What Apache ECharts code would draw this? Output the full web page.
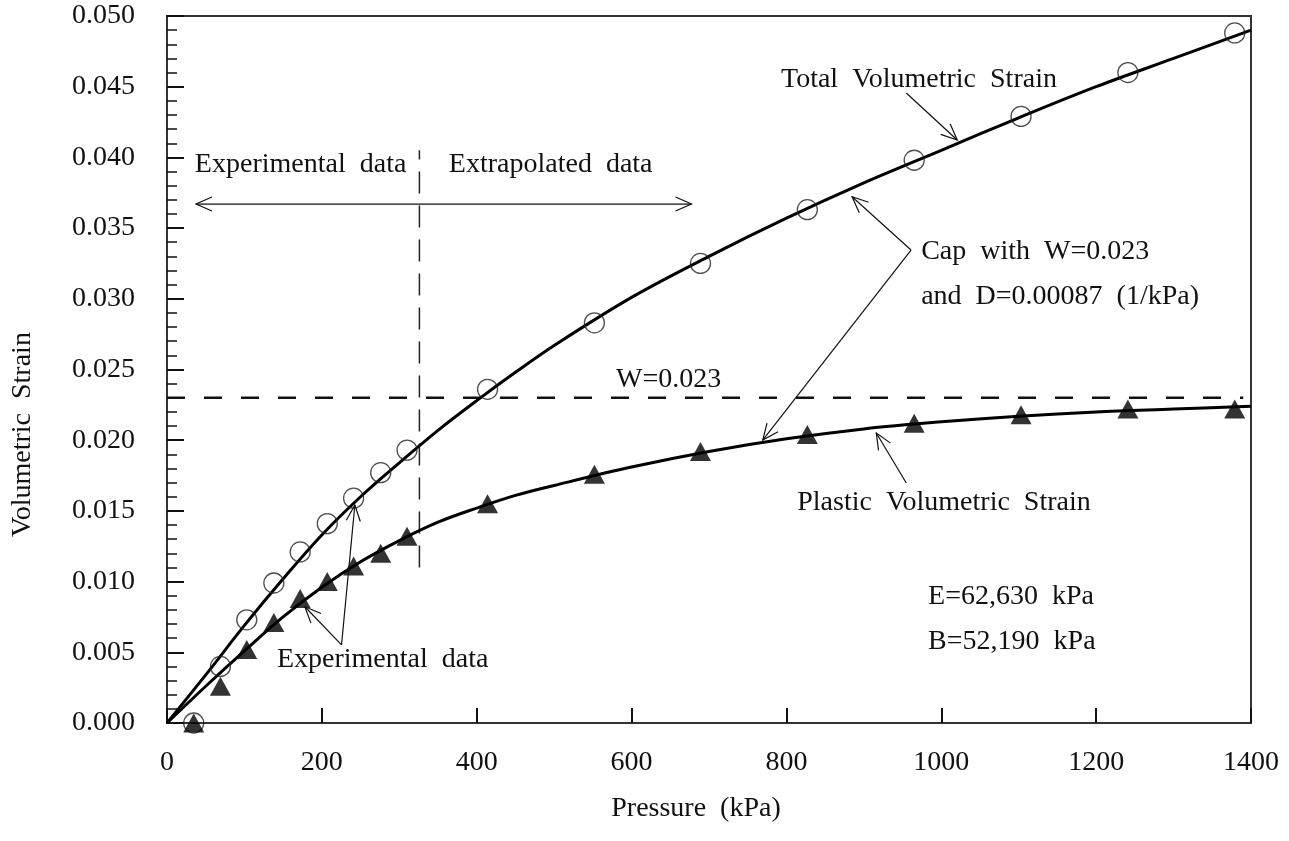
<!DOCTYPE html>
<html>
<head>
<meta charset="utf-8">
<script src="https://cdn.jsdelivr.net/npm/echarts@6/dist/echarts.min.js"></script>
<style>
html,body{margin:0;padding:0;background:#fff;}
#chart{width:1289px;height:841px;}
</style>
</head>
<body>
<div id="chart"></div>
<script>
// ---- Data ----
const xTickLabels = ['0','200','400','600','800','1000','1200','1400'];
const yTickLabels = ['0.000','0.005','0.010','0.015','0.020','0.025','0.030','0.035','0.040','0.045','0.050'];

// measured points (kPa)
const markerPressure = [34.5, 69, 103, 138, 172, 207, 241, 276, 310, 414, 552, 689, 827, 965, 1103, 1241, 1379];
const totalMarkers   = [0.0000, 0.0040, 0.0073, 0.0099, 0.0121, 0.0141, 0.0159, 0.0177, 0.0193, 0.0236, 0.0283, 0.0325, 0.0363, 0.0398, 0.0429, 0.0460, 0.0488];
const plasticMarkers = [0.0000, 0.0026, 0.0052, 0.0071, 0.0088, 0.0100, 0.0111, 0.0120, 0.0132, 0.0155, 0.0176, 0.0192, 0.0204, 0.0212, 0.0218, 0.0222, 0.0222];

// fitted curves (cap model)
const curvePressure = [0, 50, 100, 150, 200, 250, 300, 350, 400, 450, 500, 600, 700, 800, 900, 1000, 1100, 1200, 1300, 1400];
const totalCurve    = [0, 0.0034, 0.0069, 0.0102, 0.0133, 0.0160, 0.0184, 0.0207, 0.0228, 0.0248, 0.0267, 0.0301, 0.0330, 0.0357, 0.0382, 0.0405, 0.0428, 0.0450, 0.0470, 0.0490];
const plasticCurve  = [0, 0.0026, 0.0051, 0.0075, 0.0096, 0.0114, 0.0129, 0.0142, 0.0152, 0.0161, 0.0168, 0.0181, 0.0192, 0.0201, 0.0208, 0.0213, 0.0217, 0.0220, 0.0222, 0.0224];

// reference lines
const wLevel = 0.023;
const wLineX = [0, 1390];
const splitPressure = 326;
const splitStrain = [0.0110, 0.0405];

// ---- Annotations (data coordinates) ----
const FONT = 'Liberation Serif';
const texts = [
  {t: 'Experimental  data', p: 36, s: 0.03946},
  {t: 'Extrapolated  data', p: 364, s: 0.03946},
  {t: 'Total  Volumetric  Strain', p: 793, s: 0.04547},
  {t: 'Cap  with  W=0.023', p: 974, s: 0.03331},
  {t: 'and  D=0.00087  (1/kPa)', p: 974, s: 0.03013},
  {t: 'W=0.023', p: 580, s: 0.02426},
  {t: 'Plastic  Volumetric  Strain', p: 814, s: 0.01556},
  {t: 'E=62,630  kPa', p: 983, s: 0.00891},
  {t: 'B=52,190  kPa', p: 983, s: 0.00573},
  {t: 'Experimental  data', p: 142, s: 0.00446}
];
// [from, to, arrowAtEnd, arrowAtStart]
const pointers = [
  [[954.8, 0.04455], [1020.6, 0.04123], true, false],
  [[960.9, 0.03345], [884.8, 0.03722], true, false],
  [[960.9, 0.03345], [769.4, 0.02001], true, false],
  [[954.8, 0.01697], [916.1, 0.02051], true, false],
  [[225.4, 0.00552], [242.6, 0.01542], true, false],
  [[225.4, 0.00552], [178.1, 0.00822], true, false],
  [[37.4, 0.0367], [677.4, 0.0367], true, true]
];

const zip = (xs, ys) => xs.map((x, i) => [x, ys[i]]);

const chart = echarts.init(document.getElementById('chart'), null, {renderer: 'canvas'});

const option = {
  backgroundColor: '#ffffff',
  animation: false,
  grid: {left: 167, right: 38, top: 16, bottom: 118, show: true, borderColor: '#333', borderWidth: 2, backgroundColor: 'transparent'},
  xAxis: {
    type: 'value', min: 0, max: 1400, interval: 200,
    name: 'Pressure  (kPa)', nameLocation: 'middle', nameGap: 72,
    nameTextStyle: {fontFamily: FONT, fontSize: 28, color: '#111', padding: [0, 26, 0, 0]},
    axisLine: {show: true, onZero: false, lineStyle: {color: '#333', width: 2}},
    axisTick: {show: true, inside: true, length: 15, lineStyle: {color: '#111', width: 2}},
    axisLabel: {fontFamily: FONT, fontSize: 28, color: '#111', margin: 26,
      formatter: (v) => xTickLabels[Math.round(v / 200)]},
    splitLine: {show: false}
  },
  yAxis: {
    type: 'value', min: 0, max: 0.05, interval: 0.005,
    name: 'Volumetric  Strain', nameLocation: 'middle', nameGap: 130, nameRotate: 90,
    nameTextStyle: {fontFamily: FONT, fontSize: 28, color: '#111', padding: [0, 130, 0, 0]},
    axisLine: {show: true, lineStyle: {color: '#333', width: 2}},
    axisTick: {show: true, inside: true, length: 17, lineStyle: {color: '#111', width: 2}},
    minorTick: {show: true, splitNumber: 5, length: 10, lineStyle: {color: '#111', width: 1.5}},
    axisLabel: {fontFamily: FONT, fontSize: 28, color: '#111', margin: 32,
      formatter: (v) => yTickLabels[Math.round(v / 0.005)]},
    splitLine: {show: false}, minorSplitLine: {show: false}
  },
  series: [
    {type: 'line', name: 'W line', data: zip(wLineX, [wLevel, wLevel]), symbol: 'none',
      lineStyle: {color: '#111', width: 2.5, type: [18, 19]}, z: 2},
    {type: 'line', name: 'split', data: [[splitPressure, splitStrain[0]], [splitPressure, splitStrain[1]]], symbol: 'none',
      lineStyle: {color: '#222', width: 1.5, type: [22, 12]}, z: 2},
    {type: 'line', name: 'Total curve', data: zip(curvePressure, totalCurve), symbol: 'none', smooth: 0.35,
      lineStyle: {color: '#000', width: 3}, z: 3},
    {type: 'line', name: 'Plastic curve', data: zip(curvePressure, plasticCurve), symbol: 'none', smooth: 0.35,
      lineStyle: {color: '#000', width: 3}, z: 3},
    {type: 'scatter', name: 'Total', data: zip(markerPressure, totalMarkers), symbol: 'circle', symbolSize: 20, clip: false,
      itemStyle: {color: 'rgba(0,0,0,0)', borderColor: '#222', borderWidth: 1.3}, z: 4},
    {type: 'scatter', name: 'Plastic', data: zip(markerPressure, plasticMarkers), symbol: 'triangle', symbolSize: [21, 19], clip: false,
      itemStyle: {color: '#000'}, z: 5}
  ]
};
chart.setOption(option);

function px(pt) { return chart.convertToPixel({gridIndex: 0}, pt); }
function head(from, to) {
  const dx = to[0] - from[0], dy = to[1] - from[1];
  const L = Math.hypot(dx, dy) || 1;
  const ux = dx / L, uy = dy / L;
  const len = 16, hw = 7;
  const bx = to[0] - ux * len, by = to[1] - uy * len;
  return {type: 'polyline', shape: {points: [[bx - uy * hw, by + ux * hw], to, [bx + uy * hw, by - ux * hw]]},
    style: {stroke: '#111', lineWidth: 1.2, fill: null}, z: 10};
}
const graphics = [];
texts.forEach(a => {
  const q = px([a.p, a.s]);
  graphics.push({type: 'text', x: q[0], y: q[1], z: 10,
    style: {text: a.t, font: '28px "' + FONT + '"', fill: '#111', textAlign: 'left', textVerticalAlign: 'middle'}});
});
pointers.forEach(pr => {
  const a = px(pr[0]), b = px(pr[1]);
  graphics.push({type: 'line', shape: {x1: a[0], y1: a[1], x2: b[0], y2: b[1]}, style: {stroke: '#111', lineWidth: 1.2}, z: 10});
  if (pr[2]) graphics.push(head(a, b));
  if (pr[3]) graphics.push(head(b, a));
});
chart.setOption({graphic: graphics});
</script>
</body>
</html>
